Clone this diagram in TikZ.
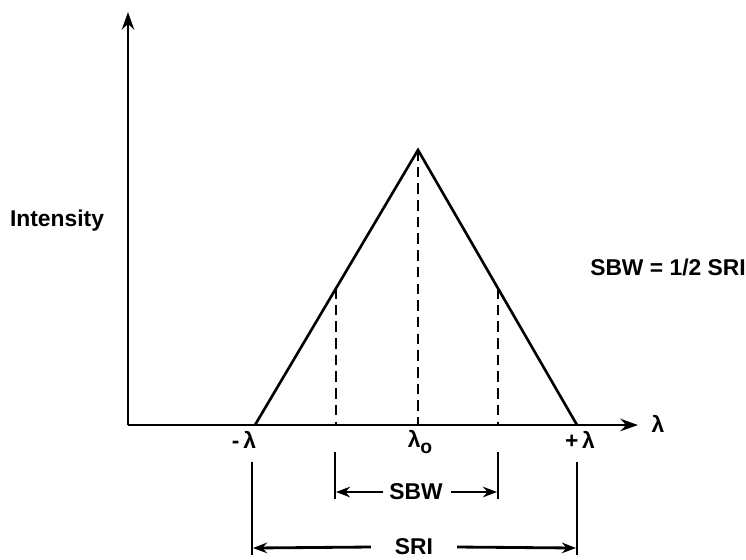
\documentclass[tikz,border=0pt]{standalone}
\usepackage{fontspec}
\setmainfont{Liberation Sans}
\usetikzlibrary{arrows.meta}
\begin{document}
\begin{tikzpicture}[x=0.02cm,y=-0.02cm,
  every node/.style={font=\bfseries\fontsize{13}{15}\selectfont, inner sep=1pt},
  axis/.style={line width=1.6pt, -{Stealth[length=10pt,width=7pt]}},
  tri/.style={line width=1.5pt},
  dashline/.style={line width=1.5pt, dash pattern=on 6pt off 3.5pt},
  ext/.style={line width=1.6pt},
  dim/.style={line width=1.6pt, -{Stealth[length=8pt,width=6pt]}}]
\useasboundingbox (0,0) rectangle (746,559);
% axes
\coordinate (O) at (128,425);
\coordinate (ytop) at (128,12);
\coordinate (xend) at (638,425);
\draw[axis] (O) -- (ytop);
\draw[axis] (O) -- (xend);
% triangle
\coordinate (L) at (255,425);
\coordinate (P) at (418,150);
\coordinate (R) at (577,425);
\draw[tri] (L) -- (P) -- (R);
% dashed
\coordinate (dl) at (336,288);
\coordinate (dlb) at (336,425);
\coordinate (dr) at (498,288);
\coordinate (drb) at (498,425);
\coordinate (Pb) at (418,425);
\draw[dashline] (P) -- (Pb);
\draw[dashline] (dl) -- (dlb);
\draw[dashline] (dr) -- (drb);
% labels
\node (int) at (57,221) {Intensity};
\node (lam) at (658,424) {λ};
\node (mlam) at (244,440) {-\,λ};
\node (lam0) at (420,442) {λ\raisebox{-0.5ex}{\fontsize{11}{13}\selectfont o}};
\node (plam) at (580,440) {+\,λ};
\node (eq) at (668,267) {SBW = 1/2 SRI};
% SBW dimension
\coordinate (s1t) at (335,452);
\coordinate (s1b) at (335,499);
\coordinate (s2t) at (498,452);
\coordinate (s2b) at (498,499);
\draw[ext] (s1t) -- (s1b);
\draw[ext] (s2t) -- (s2b);
\node (sbw) at (416,492) {SBW};
\coordinate (sa1) at (336,492);
\coordinate (sa2) at (497,492);
\draw[dim] (sbw.west) ++(-4,0) -- (sa1);
\draw[dim] (sbw.east) ++(6,0) -- (sa2);
% SRI dimension
\coordinate (r1t) at (252,462);
\coordinate (r1b) at (252,555);
\coordinate (r2t) at (577,462);
\coordinate (r2b) at (577,555);
\draw[ext] (r1t) -- (r1b);
\draw[ext] (r2t) -- (r2b);
\node (sri) at (414,547) {SRI};
\coordinate (ra1) at (253,548);
\coordinate (ra2) at (576,548);
\draw[dim] (sri.west) ++(-22,0) -- (ra1);
\draw[dim] (sri.east) ++(22,0) -- (ra2);
\end{tikzpicture}
\end{document}
